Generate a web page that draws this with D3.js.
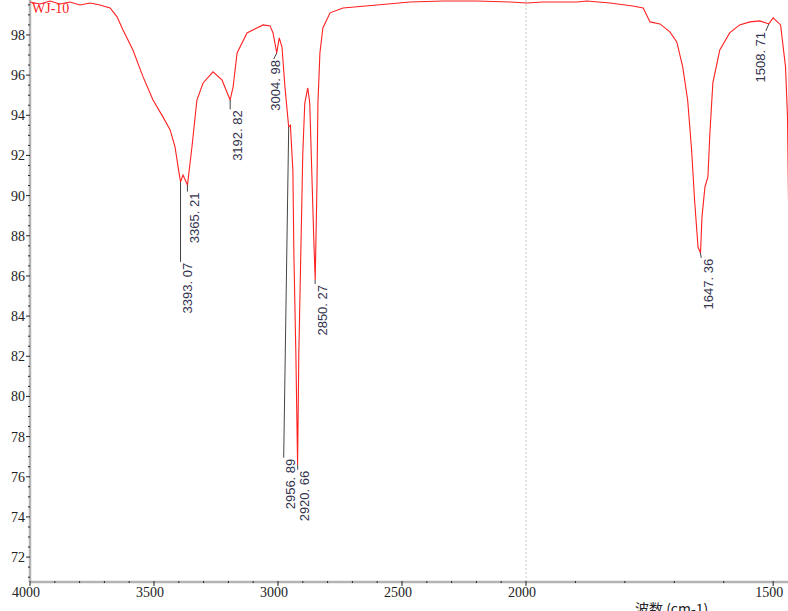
<!DOCTYPE html>
<html>
  <head>
    <title>WJ-10 IR</title>
    <style>
      body { margin: 0; padding: 0; overflow: hidden; background: #fff; }
      svg { display: block; }
    </style>
    <script src="https://unpkg.com/d3@7.1.1/dist/d3.min.js"></script>
  </head>
  <body>
    <svg width="788" height="611"></svg>
    <script>
      // Espectro: número de onda (cm-1) y transmitancia (%)
      const waveNumbers = [
        4000, 3960, 3919, 3879, 3839, 3798, 3758, 3718, 3677, 3649, 3625, 3585, 3544, 3504,
        3464, 3435, 3415, 3403, 3393, 3383, 3365, 3347, 3327, 3302, 3262, 3226, 3193, 3181,
        3165, 3125, 3060, 3032, 3020, 3005, 2995, 2984, 2972, 2957, 2950, 2940, 2936, 2928,
        2921, 2916, 2908, 2900, 2892, 2880, 2872, 2864, 2856, 2850, 2843, 2839, 2831, 2819,
        2790, 2738, 2601, 2468, 2335, 2198, 2065, 1998, 1966, 1897, 1877, 1830, 1784, 1763,
        1749, 1729, 1709, 1695, 1683, 1673, 1665, 1659, 1652, 1647, 1644, 1638, 1632, 1628,
        1622, 1608, 1588, 1568, 1547, 1527, 1509, 1500, 1485, 1475, 1471, 1469
      ];
      const transmittance = [
        99.64, 99.54, 99.69, 99.54, 99.64, 99.49, 99.59, 99.49, 99.34, 98.90, 98.25, 97.25, 95.91, 94.76,
        93.92, 93.27, 92.42, 91.43, 90.68, 91.03, 90.53, 92.42, 94.76, 95.61, 96.16, 95.76, 94.76, 95.41,
        97.10, 98.10, 98.50, 98.45, 98.10, 97.10, 97.85, 97.40, 95.41, 93.42, 93.50, 91.28, 87.14, 82.16,
        76.58, 82.16, 87.14, 92.12, 94.61, 95.36, 94.61, 91.28, 87.94, 85.80, 90.43, 94.61, 97.10, 98.35,
        99.10, 99.34, 99.49, 99.64, 99.69, 99.69, 99.64, 99.59, 99.64, 99.64, 99.69, 99.59, 99.44, 99.34,
        98.65, 98.55, 98.15, 97.65, 96.41, 94.76, 92.27, 89.78, 87.44, 87.14, 88.94, 90.43, 90.93, 93.12,
        95.61, 97.25, 98.10, 98.50, 98.65, 98.70, 98.55, 98.85, 98.50, 96.41, 93.92, 89.78
      ];

      // Picos marcados
      const peakWave = [3393.07, 3365.21, 3192.82, 3004.98, 2956.89, 2920.66, 2850.27, 1647.36, 1508.71];
      const peakValue = [90.68, 90.53, 94.76, 97.10, 93.42, 76.58, 85.80, 87.14, 98.55];
      const peakLabel = ['3393. 07', '3365. 21', '3192. 82', '3004. 98', '2956. 89', '2920. 66', '2850. 27', '1647. 36', '1508. 71'];
      // extremo inferior de la línea guía (en %), desplazamiento de la línea y del texto
      const peakLineEnd = [86.7, 90.2, 94.3, 96.8, 76.95, 76.35, 85.6, 86.9, 98.2];
      const peakLineDx = [0, 0, 0, -3, -5, 0, 0, 1, -3];
      const peakTextDx = [2, 2, 2, -3, 2, 2, 2, 2, -10];

      const xMajor = [4000, 3500, 3000, 2500, 2000, 1500];
      const yMajor = [72, 74, 76, 78, 80, 82, 84, 86, 88, 90, 92, 94, 96, 98];

      const svg = d3.select('svg');
      const plotLeft = 30, plotBottom = 582, plotRight = 788, plotTop = 0;

      // Escala partida: por debajo de 2000 cm-1 la escala se duplica
      const x = d3.scaleLinear().domain([4000, 2000, 1470]).range([plotLeft, 526, plotRight]);
      const y = d3.scaleLinear().domain([70.76, 99.74]).range([plotBottom, plotTop]);

      svg.append('defs').append('clipPath').attr('id', 'plot')
        .append('rect').attr('x', plotLeft).attr('y', plotTop)
        .attr('width', plotRight - plotLeft).attr('height', plotBottom - plotTop);

      // Línea punteada en 2000
      svg.append('line')
        .attr('x1', x(2000)).attr('x2', x(2000))
        .attr('y1', 0).attr('y2', plotBottom)
        .attr('stroke', '#c8c8c8').attr('stroke-dasharray', '2,2');

      // Ejes
      const xMinor = d3.range(4000, 1400, -100).filter(v => !xMajor.includes(v));
      const yMinor = d3.range(71, 99.75, 0.5).filter(v => !yMajor.includes(v));

      svg.append('line').attr('x1', plotLeft).attr('x2', plotRight)
        .attr('y1', plotBottom).attr('y2', plotBottom)
        .attr('stroke', '#b4b4b4').attr('stroke-width', 2.5);
      svg.append('line').attr('x1', plotLeft).attr('x2', plotLeft)
        .attr('y1', 0).attr('y2', plotBottom)
        .attr('stroke', '#b4b4b4').attr('stroke-width', 2.5);

      svg.selectAll('line.xminor').data(xMinor).enter().append('line')
        .attr('class', 'xminor')
        .attr('x1', d => x(d)).attr('x2', d => x(d))
        .attr('y1', plotBottom - 1).attr('y2', plotBottom + 1)
        .attr('stroke', '#222');
      svg.selectAll('line.xmajor').data(xMajor).enter().append('line')
        .attr('class', 'xmajor')
        .attr('x1', d => x(d)).attr('x2', d => x(d))
        .attr('y1', plotBottom - 1).attr('y2', plotBottom + 4)
        .attr('stroke', '#222');
      svg.selectAll('text.xlab').data(xMajor).enter().append('text')
        .attr('class', 'xlab')
        .attr('x', d => x(d) - 4).attr('y', 597)
        .attr('text-anchor', 'middle')
        .attr('font-family', 'Liberation Serif')
        .attr('font-size', 14).attr('fill', '#222')
        .text(d => d);

      svg.selectAll('line.yminor').data(yMinor).enter().append('line')
        .attr('class', 'yminor')
        .attr('x1', plotLeft - 2).attr('x2', plotLeft)
        .attr('y1', d => y(d)).attr('y2', d => y(d))
        .attr('stroke', '#222');
      svg.selectAll('line.ymajor').data(yMajor).enter().append('line')
        .attr('class', 'ymajor')
        .attr('x1', plotLeft - 4).attr('x2', plotLeft)
        .attr('y1', d => y(d)).attr('y2', d => y(d))
        .attr('stroke', '#222');
      svg.selectAll('text.ylab').data(yMajor).enter().append('text')
        .attr('class', 'ylab')
        .attr('x', 25).attr('y', d => y(d) + 5)
        .attr('text-anchor', 'end')
        .attr('font-family', 'Liberation Serif')
        .attr('font-size', 14).attr('fill', '#222')
        .text(d => d);

      // Espectro
      const line = d3.line()
        .x((d, i) => x(waveNumbers[i]))
        .y(d => y(d));
      svg.append('path')
        .attr('clip-path', 'url(#plot)')
        .attr('d', line(transmittance))
        .attr('fill', 'none')
        .attr('stroke', '#ff2020')
        .attr('stroke-width', 1.1);

      // Etiquetas de picos
      const peaks = svg.selectAll('g.peak').data(peakWave).enter().append('g').attr('class', 'peak');
      peaks.append('line')
        .attr('x1', d => x(d)).attr('y1', (d, i) => y(peakValue[i]))
        .attr('x2', (d, i) => x(d) + peakLineDx[i]).attr('y2', (d, i) => y(peakLineEnd[i]))
        .attr('stroke', '#444').attr('stroke-width', 1);
      peaks.append('text')
        .attr('transform', (d, i) => {
          const tx = x(d) + peakLineDx[i] + peakTextDx[i];
          return `translate(${tx}, ${y(peakLineEnd[i]) + 1}) rotate(-90)`;
        })
        .attr('text-anchor', 'end')
        .attr('dominant-baseline', 'hanging')
        .attr('font-family', 'Liberation Sans')
        .attr('font-size', 13).attr('fill', '#33334d')
        .text((d, i) => peakLabel[i]);

      // Título y rótulo del eje
      svg.append('text')
        .attr('x', 32).attr('y', 13)
        .attr('font-family', 'Liberation Serif')
        .attr('font-size', 14).attr('fill', '#ff2020')
        .text('WJ-10');
      svg.append('text')
        .attr('x', 635).attr('y', 614)
        .attr('font-family', 'Noto Sans CJK SC')
        .attr('font-size', 14).attr('fill', '#222')
        .text('波数 (cm-1)');
    </script>
  </body>
</html>
